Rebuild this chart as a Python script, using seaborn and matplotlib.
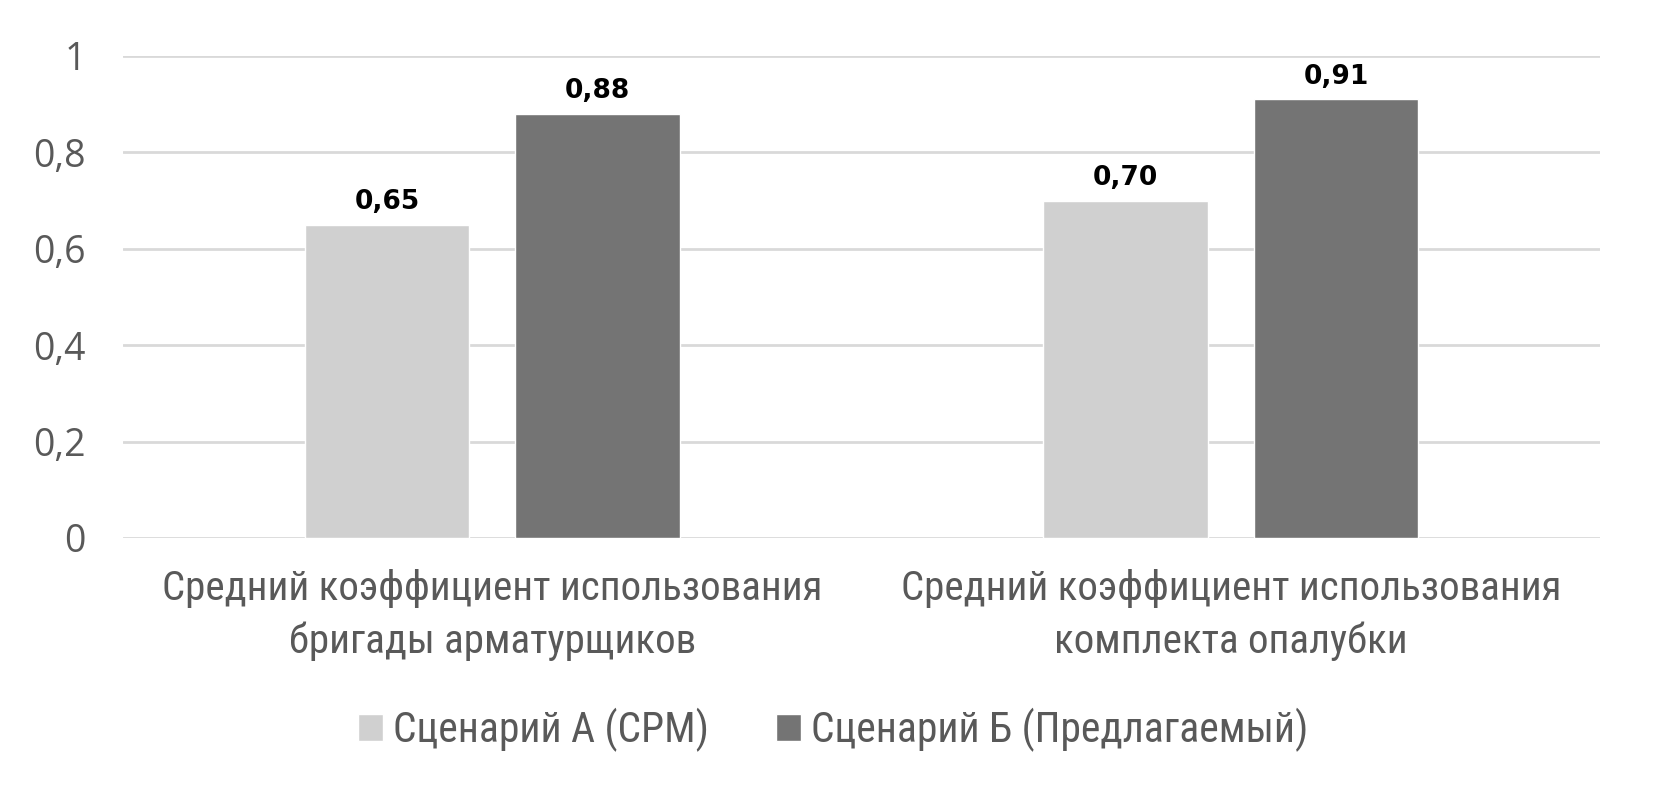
import matplotlib
matplotlib.use('Agg')
import numpy as np
import pandas as pd
import matplotlib.pyplot as plt
import seaborn as sns

# ==========================================
# DATOS
# ==========================================
categorias = [
    "Средний коэффициент использования\nбригады арматурщиков",
    "Средний коэффициент использования\nкомплекта опалубки",
]
escenarios = ["Сценарий А (CPM)", "Сценарий Б (Предлагаемый)"]
valores_a = [0.65, 0.70]
valores_b = [0.88, 0.91]
yticks = [0, 0.2, 0.4, 0.6, 0.8, 1]
ytick_labels = ["0", "0,2", "0,4", "0,6", "0,8", "1"]

colores = ["#D0D0D0", "#747474"]
TEXTO = "#595959"
NARROW = ['Liberation Sans Narrow', 'Roboto Condensed', 'Roboto', 'DejaVu Sans']

df = pd.DataFrame({
    "categoria": categorias * 2,
    "escenario": [escenarios[0]] * 2 + [escenarios[1]] * 2,
    "valor": valores_a + valores_b,
})

sns.set_theme(style="white")
plt.rcParams['font.family'] = ['Open Sans', 'DejaVu Sans']

fig = plt.figure(figsize=(16.53, 8), dpi=100)
ax = fig.add_axes([0.0744, 0.3275, 0.8936, 0.6025])

sns.barplot(data=df, x="categoria", y="valor", hue="escenario",
            palette=colores, width=0.57, gap=0.22, saturation=1,
            ax=ax, zorder=3)

# etiquetas de valor con coma decimal
for cont in ax.containers:
    etiquetas = [f"{b.get_height():.2f}".replace('.', ',') for b in cont]
    ax.bar_label(cont, labels=etiquetas, padding=7, fontsize=19,
                 fontweight='bold', color='black',
                 family=['DejaVu Sans'])

ax.set_ylim(0, 1)
ax.set_xlim(-0.5, 1.5)
ax.set_yticks(yticks)
ax.set_yticklabels(ytick_labels, fontsize=27, color=TEXTO)
ax.yaxis.grid(True, color="#D9D9D9", linewidth=2, zorder=0)
ax.set_axisbelow(True)
ax.tick_params(axis='both', length=0)
ax.tick_params(axis='y', pad=27)
ax.tick_params(axis='x', pad=22)
for lbl in ax.get_xticklabels():
    lbl.set_fontsize(29.5)
    lbl.set_color(TEXTO)
    lbl.set_family(NARROW)
    lbl.set_linespacing(1.45)
ax.set_xlabel("")
ax.set_ylabel("")
for s in ax.spines.values():
    s.set_visible(False)

handles, labels = ax.get_legend_handles_labels()
ax.get_legend().remove()
leg = fig.legend(handles, labels, loc='center', bbox_to_anchor=(0.504, 0.0875),
                 ncol=2, frameon=False, handlelength=0.6, handleheight=0.6,
                 handletextpad=0.25, columnspacing=1.6,
                 prop={'family': NARROW, 'size': 30})
for t in leg.get_texts():
    t.set_color(TEXTO)

fig.savefig("out.png", dpi=100, facecolor='white')
